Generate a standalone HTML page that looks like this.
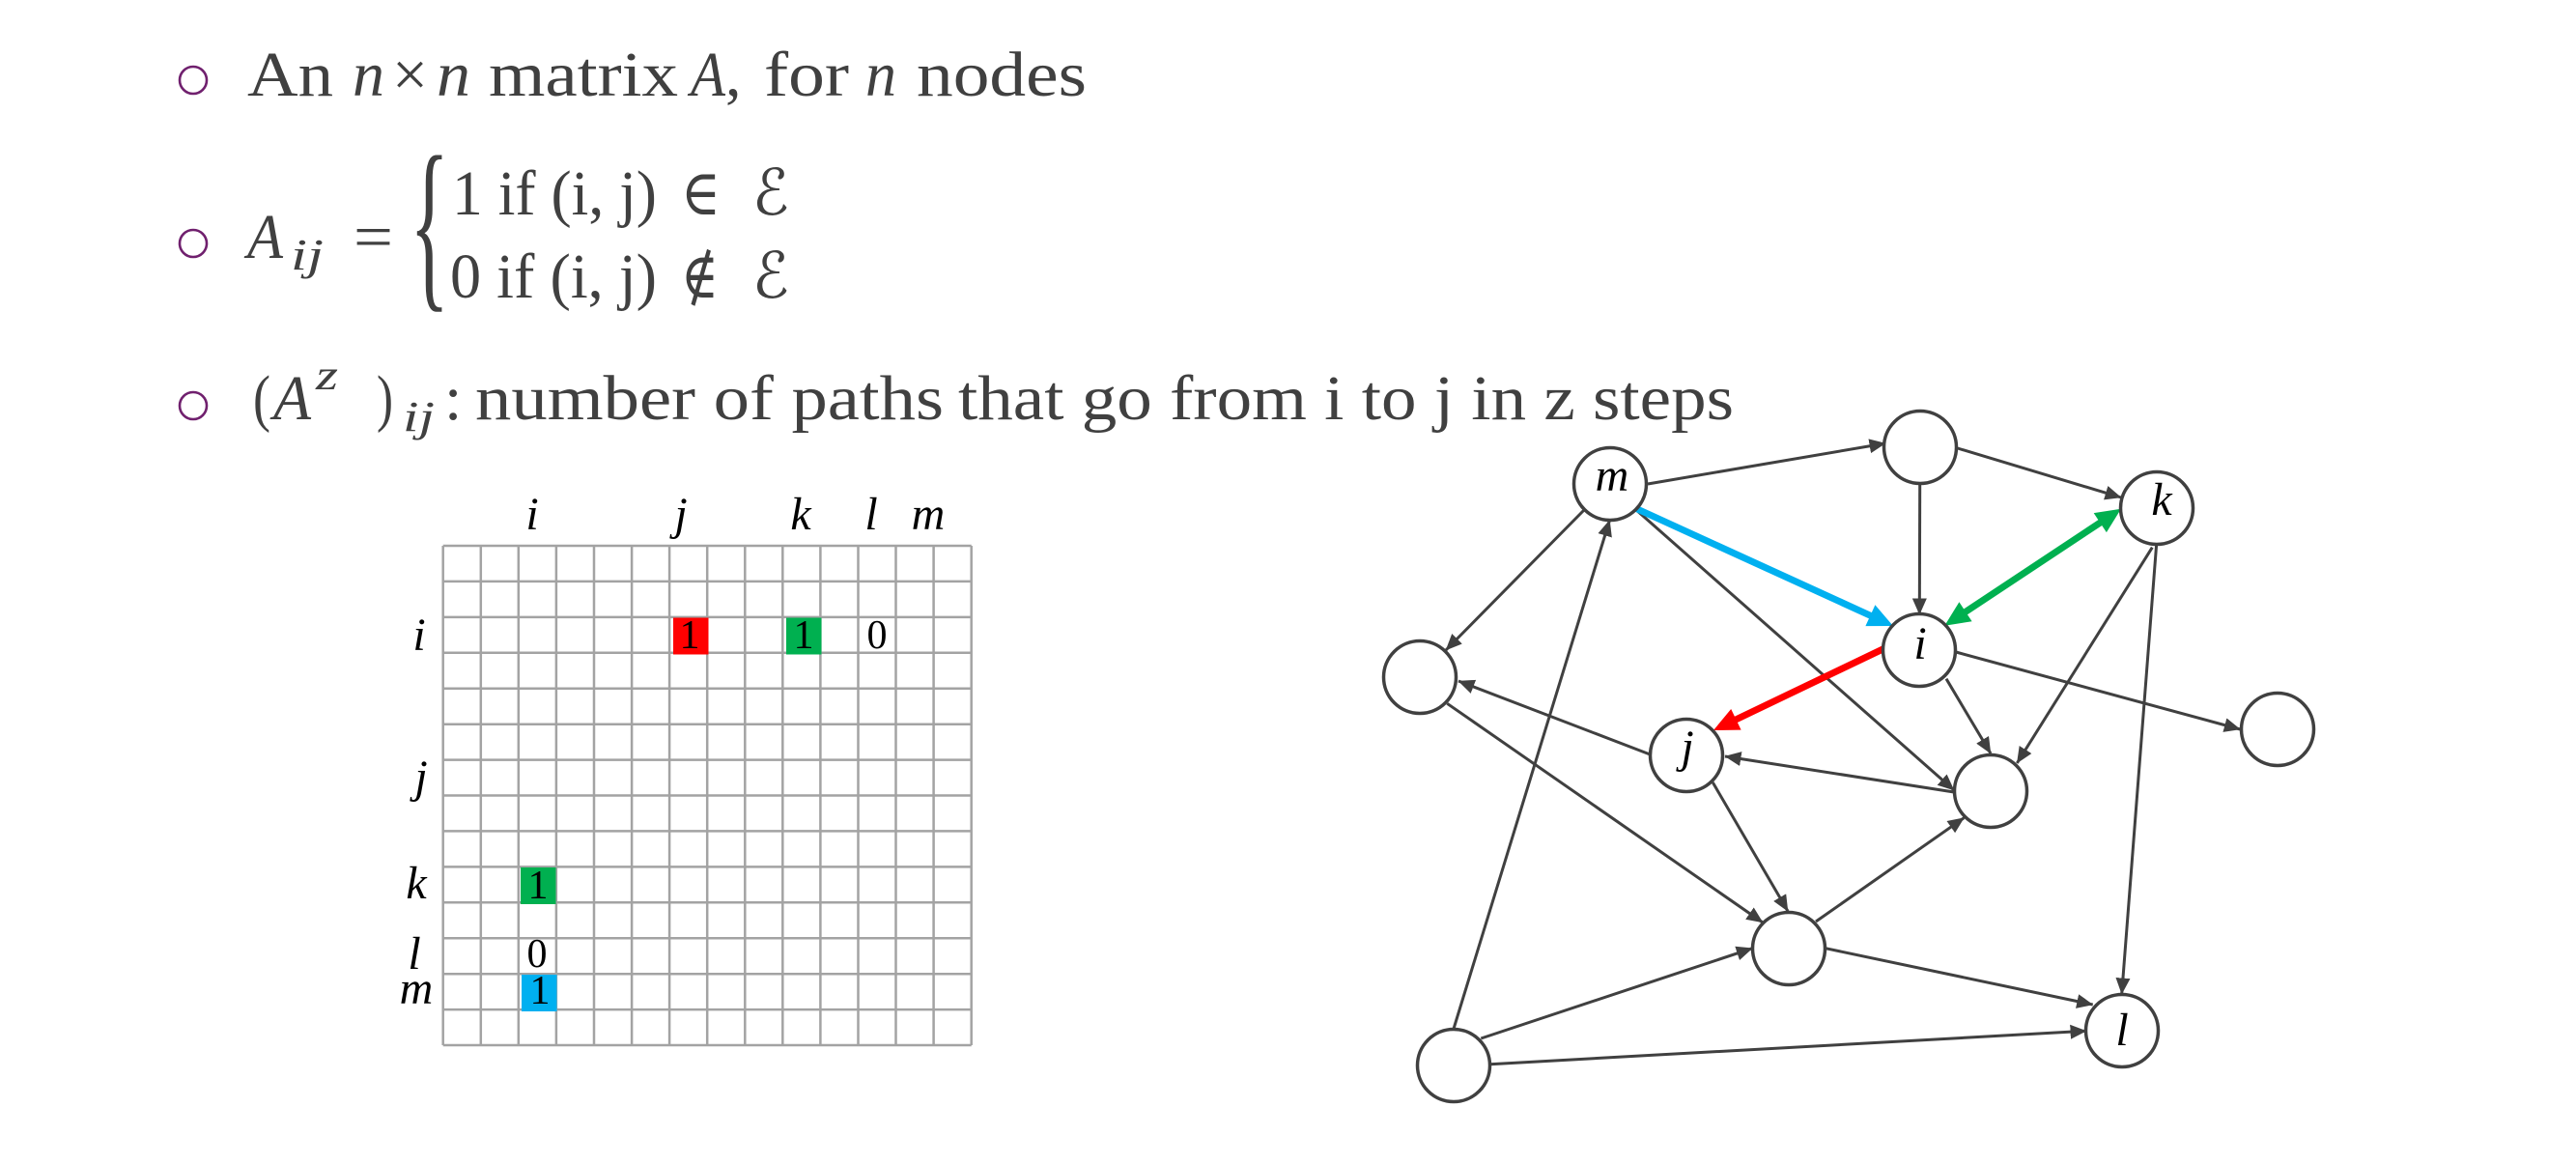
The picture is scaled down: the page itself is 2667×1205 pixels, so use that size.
<!DOCTYPE html>
<html>
<head>
<meta charset="utf-8">
<style>
  html, body { margin: 0; padding: 0; background: #ffffff; }
  svg { display: block; }
  .t { font-family: "Liberation Serif", "DejaVu Serif", serif; fill: #404040; }
  .it { font-style: italic; }
  .lbl { font-family: "Liberation Serif", "DejaVu Serif", serif; font-style: italic; fill: #000; }
  .num { font-family: "Liberation Serif", "DejaVu Serif", serif; fill: #000; }
  .e { stroke: #404040; stroke-width: 3; fill: none; }
  .n { stroke: #404040; stroke-width: 3.5; fill: #fff; }
  .g { stroke: #a3a3a3; stroke-width: 2.5; }
</style>
</head>
<body>
<svg width="2667" height="1205" viewBox="0 0 2667 1205" xmlns="http://www.w3.org/2000/svg">
  <defs>
    <marker id="ah" markerUnits="userSpaceOnUse" markerWidth="18" markerHeight="16" refX="16.5" refY="7.5" orient="auto">
      <path d="M0,0 L17,7.5 L0,15 z" fill="#404040"/>
    </marker>
  </defs>
  <rect width="2667" height="1205" fill="#fff"/>

  <!-- Bullets -->
  <circle cx="200" cy="83" r="14" fill="none" stroke="#70206e" stroke-width="2.6"/>
  <circle cx="200" cy="252" r="14" fill="none" stroke="#70206e" stroke-width="2.6"/>
  <circle cx="200" cy="420" r="14" fill="none" stroke="#70206e" stroke-width="2.6"/>

  <!-- Line 1 -->
  <g class="t" font-size="66">
    <text x="256" y="99" textLength="89" lengthAdjust="spacingAndGlyphs">An</text>
    <text class="it" x="365" y="99" textLength="33" lengthAdjust="spacingAndGlyphs">n</text>
    <text x="406" y="99" textLength="37" lengthAdjust="spacingAndGlyphs">×</text>
    <text class="it" x="452" y="99" textLength="35" lengthAdjust="spacingAndGlyphs">n</text>
    <text x="506" y="99" textLength="196" lengthAdjust="spacingAndGlyphs">matrix</text>
    <text class="it" x="715" y="99" textLength="36" lengthAdjust="spacingAndGlyphs">A</text>
    <text x="751" y="99">,</text>
    <text x="791" y="99" textLength="88" lengthAdjust="spacingAndGlyphs">for</text>
    <text class="it" x="896" y="99" textLength="32" lengthAdjust="spacingAndGlyphs">n</text>
    <text x="949" y="99" textLength="176" lengthAdjust="spacingAndGlyphs">nodes</text>
  </g>

  <!-- Line 2 -->
  <g class="t" font-size="66">
    <text class="it" x="256" y="267" textLength="37" lengthAdjust="spacingAndGlyphs">A</text>
    <text class="it" x="301" y="279" font-size="46" textLength="34" lengthAdjust="spacingAndGlyphs">ij</text>
    <text x="366" y="267" textLength="41" lengthAdjust="spacingAndGlyphs">=</text>
    <text transform="translate(424,296.5) scale(1.3,2.97)" x="0" y="0">{</text>
    <text x="468" y="222" textLength="212" lengthAdjust="spacingAndGlyphs">1 if (i, j)</text>
    <text x="705" y="222" textLength="41" lengthAdjust="spacingAndGlyphs">∈</text>
    <text x="779" y="222" textLength="38" lengthAdjust="spacingAndGlyphs">ℰ</text>
    <text x="466" y="308" textLength="214" lengthAdjust="spacingAndGlyphs">0 if (i, j)</text>
    <text x="705" y="308" textLength="39" lengthAdjust="spacingAndGlyphs">∉</text>
    <text x="779" y="308" textLength="38" lengthAdjust="spacingAndGlyphs">ℰ</text>
  </g>

  <!-- Line 3 -->
  <g class="t" font-size="66">
    <text x="262" y="434" textLength="18" lengthAdjust="spacingAndGlyphs">(</text>
    <text class="it" x="283" y="434" textLength="39" lengthAdjust="spacingAndGlyphs">A</text>
    <text class="it" x="327" y="403" font-size="44" textLength="23" lengthAdjust="spacingAndGlyphs">z</text>
    <text x="390" y="434" textLength="17" lengthAdjust="spacingAndGlyphs">)</text>
    <text class="it" x="417" y="446" font-size="44" textLength="33" lengthAdjust="spacingAndGlyphs">ij</text>
    <text x="460" y="434">:</text>
    <text x="492" y="434" textLength="485" lengthAdjust="spacingAndGlyphs">number of paths</text>
    <text x="992" y="434" textLength="803" lengthAdjust="spacingAndGlyphs">that go from i to j in z steps</text>
  </g>

  <!-- Matrix grid -->
  <g class="g">
    <line x1="458.7" y1="565" x2="458.7" y2="1082"/>
    <line x1="497.8" y1="565" x2="497.8" y2="1082"/>
    <line x1="536.8" y1="565" x2="536.8" y2="1082"/>
    <line x1="575.9" y1="565" x2="575.9" y2="1082"/>
    <line x1="615.0" y1="565" x2="615.0" y2="1082"/>
    <line x1="654.1" y1="565" x2="654.1" y2="1082"/>
    <line x1="693.1" y1="565" x2="693.1" y2="1082"/>
    <line x1="732.2" y1="565" x2="732.2" y2="1082"/>
    <line x1="771.3" y1="565" x2="771.3" y2="1082"/>
    <line x1="810.3" y1="565" x2="810.3" y2="1082"/>
    <line x1="849.4" y1="565" x2="849.4" y2="1082"/>
    <line x1="888.5" y1="565" x2="888.5" y2="1082"/>
    <line x1="927.5" y1="565" x2="927.5" y2="1082"/>
    <line x1="966.6" y1="565" x2="966.6" y2="1082"/>
    <line x1="1005.7" y1="565" x2="1005.7" y2="1082"/>

    <line x1="458.7" y1="565" x2="1005.7" y2="565"/>
    <line x1="458.7" y1="601.9" x2="1005.7" y2="601.9"/>
    <line x1="458.7" y1="638.9" x2="1005.7" y2="638.9"/>
    <line x1="458.7" y1="675.8" x2="1005.7" y2="675.8"/>
    <line x1="458.7" y1="712.7" x2="1005.7" y2="712.7"/>
    <line x1="458.7" y1="749.7" x2="1005.7" y2="749.7"/>
    <line x1="458.7" y1="786.6" x2="1005.7" y2="786.6"/>
    <line x1="458.7" y1="823.5" x2="1005.7" y2="823.5"/>
    <line x1="458.7" y1="860.4" x2="1005.7" y2="860.4"/>
    <line x1="458.7" y1="897.4" x2="1005.7" y2="897.4"/>
    <line x1="458.7" y1="934.3" x2="1005.7" y2="934.3"/>
    <line x1="458.7" y1="971.2" x2="1005.7" y2="971.2"/>
    <line x1="458.7" y1="1008.2" x2="1005.7" y2="1008.2"/>
    <line x1="458.7" y1="1045.1" x2="1005.7" y2="1045.1"/>
    <line x1="458.7" y1="1082" x2="1005.7" y2="1082"/>
  </g>

  <!-- Coloured cells -->
  <rect x="697" y="639.5" width="36.5" height="38" fill="#ff0000"/>
  <rect x="814" y="639.5" width="36.5" height="38" fill="#00b050"/>
  <rect x="539" y="898" width="36.5" height="38" fill="#00b050"/>
  <rect x="540" y="1009" width="36.5" height="38" fill="#00b0f0"/>

  <g class="num" font-size="42" text-anchor="middle">
    <text x="714" y="671">1</text>
    <text x="832" y="671">1</text>
    <text x="908" y="671">0</text>
    <text x="557" y="930">1</text>
    <text x="556" y="1001">0</text>
    <text x="559" y="1039">1</text>
  </g>

  <!-- Matrix labels -->
  <g class="lbl" font-size="48" text-anchor="middle">
    <text x="551" y="548">i</text>
    <text x="705" y="548">j</text>
    <text x="829" y="548">k</text>
    <text x="902" y="548">l</text>
    <text x="961" y="548">m</text>
    <text x="434" y="673">i</text>
    <text x="436" y="820">j</text>
    <text x="431" y="930">k</text>
    <text x="429" y="1003">l</text>
    <text x="431" y="1039">m</text>
  </g>

  <!-- Graph edges (black) -->
  <g class="e" marker-end="url(#ah)">
    <line x1="1706" y1="501" x2="1952" y2="459"/>
    <line x1="1693" y1="527" x2="2023" y2="818"/>
    <line x1="1640" y1="528" x2="1497" y2="673"/>
    <line x1="1505" y1="1065" x2="1666.5" y2="538.5"/>
    <line x1="1987.7" y1="501.7" x2="1987.3" y2="636"/>
    <line x1="2026.7" y1="464" x2="2196" y2="515"/>
    <line x1="2015" y1="702.7" x2="2061" y2="780"/>
    <line x1="2025" y1="675" x2="2319.3" y2="755"/>
    <line x1="2228.3" y1="566.7" x2="2088.3" y2="790"/>
    <line x1="2232.7" y1="563" x2="2196.7" y2="1029"/>
    <line x1="1708.3" y1="781" x2="1510" y2="705"/>
    <line x1="1498.3" y1="728.3" x2="1825" y2="955"/>
    <line x1="1773.3" y1="810" x2="1851" y2="943.3"/>
    <line x1="2023" y1="820" x2="1786" y2="783"/>
    <line x1="1533.3" y1="1075" x2="1814.3" y2="981.7"/>
    <line x1="1542.7" y1="1101.7" x2="2160" y2="1067.3"/>
    <line x1="1880" y1="954" x2="2033.3" y2="846.7"/>
    <line x1="1890" y1="981.7" x2="2166.7" y2="1040"/>
  </g>

  <!-- Coloured edges -->
  <line x1="1693" y1="526" x2="1937" y2="637.5" stroke="#00b0f0" stroke-width="7"/>
  <polygon points="1960,648 1931.4,648.1 1941.4,626.3" fill="#00b0f0"/>

  <line x1="1950" y1="671.7" x2="1796" y2="745.5" stroke="#ff0000" stroke-width="7"/>
  <polygon points="1774,756 1792.2,734.0 1802.6,755.6" fill="#ff0000"/>

  <line x1="2034" y1="634" x2="2175.5" y2="540.3" stroke="#00b050" stroke-width="7"/>
  <polygon points="2196,526.7 2180.9,551.1 2167.7,531.1" fill="#00b050"/>
  <polygon points="2013.3,647.7 2041.6,643.3 2028.4,623.3" fill="#00b050"/>

  <!-- Nodes -->
  <g>
    <circle class="n" cx="1667" cy="501" r="37.5"/>
    <circle class="n" cx="1988" cy="463" r="37.5"/>
    <circle class="n" cx="2233" cy="526" r="37.5"/>
    <circle class="n" cx="1987" cy="673" r="37.5"/>
    <circle class="n" cx="1470" cy="701" r="37.5"/>
    <circle class="n" cx="1746" cy="782" r="37.5"/>
    <circle class="n" cx="2358" cy="755" r="37.5"/>
    <circle class="n" cx="2061" cy="819" r="37.5"/>
    <circle class="n" cx="1852" cy="982" r="37.5"/>
    <circle class="n" cx="1505" cy="1103" r="37.5"/>
    <circle class="n" cx="2197" cy="1067" r="37.5"/>
  </g>

  <!-- Node labels -->
  <g class="lbl" font-size="48" text-anchor="middle">
    <text x="1669" y="508">m</text>
    <text x="1988" y="682">i</text>
    <text x="2238" y="533">k</text>
    <text x="1747" y="789">j</text>
    <text x="2197" y="1082">l</text>
  </g>
</svg>
</body>
</html>
